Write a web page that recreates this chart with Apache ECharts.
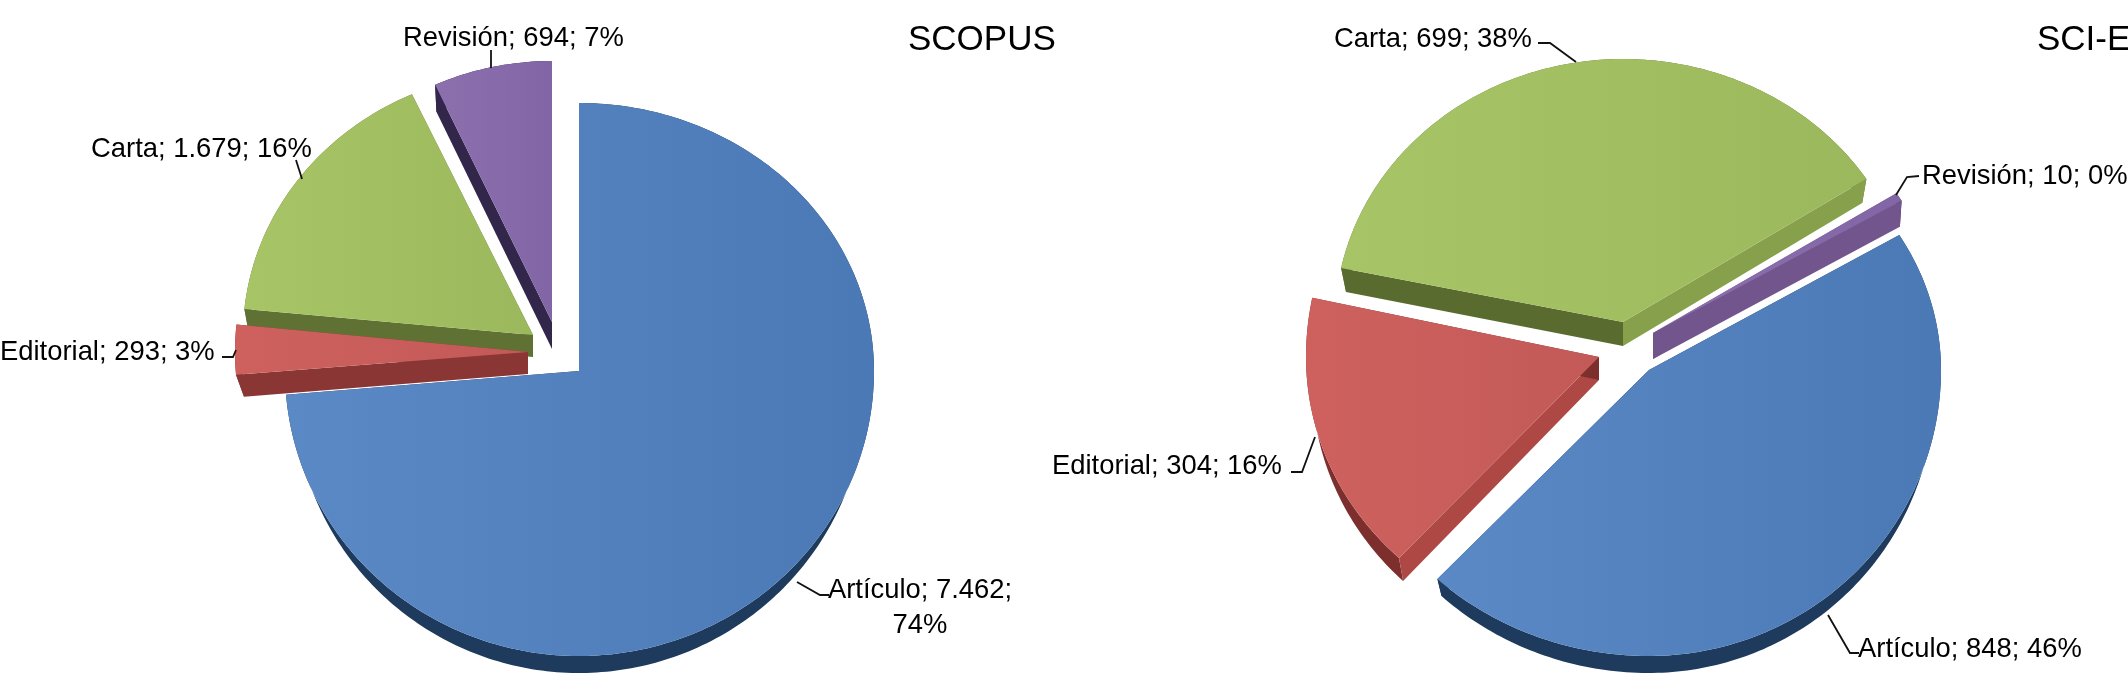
<!DOCTYPE html>
<html>
<head>
<meta charset="utf-8">
<title>SCOPUS / SCI-E</title>
<script src="https://cdn.jsdelivr.net/npm/echarts@6/dist/echarts.min.js"></script>
<style>
  html, body { margin: 0; padding: 0; background: #fff; }
  #chart { width: 2128px; height: 688px; }
</style>
</head>
<body>
<div id="chart"></div>
<script>
// data
var categories = ['Artículo', 'Editorial', 'Carta', 'Revisión'];
var scopusValues = [7462, 293, 1679, 694];
var scopusValueLabels = ['7.462', '293', '1.679', '694'];
var scopusPercents = ['74%', '3%', '16%', '7%'];
var scieValues = [848, 304, 699, 10];
var scieValueLabels = ['848', '304', '699', '10'];
var sciePercents = ['46%', '16%', '38%', '0%'];

// look of each slice, same order as categories
var faceColors = [['#5a89c6', '#4a79b5'], ['#ce615e', '#c35a58'], ['#a7c567', '#9cb85c'], ['#8c70ae', '#8265a5']];
var rimColors = ['#1e3a5c', '#7c2f2d', '#5f7233', '#32264a'];

// exploded slices: apex, radius per quadrant, wall height, rimIn pulls the lower edge inwards
var scopusShapes = [
    {cx: 579, cy: 371, rxR: 295, rxL: 294, ryT: 268, ryB: 285, depth: 17, rimIn: 8, z: 1, walls: ['#1e3a5c', '#1e3a5c']},
    {cx: 528, cy: 352, rxR: 293, rxL: 293, ryT: 280, ryB: 274, depth: 22, rimIn: 8, z: 4, walls: ['#8a3634', '#8a3634']},
    {cx: 533, cy: 335, rxR: 285, rxL: 290, ryT: 265, ryB: 265, depth: 22, rimIn: 4, z: 3, walls: ['#5f7233', '#5f7233']},
    {cx: 552, cy: 322, rxR: 280, rxL: 280, ryT: 261, ryB: 261, depth: 27, rimIn: 3, z: 2, walls: ['#32264a', '#32264a']}
];
var scieShapes = [
    {cx: 1649, cy: 370, rxR: 292, rxL: 310, ryT: 262, ryB: 286, depth: 17, rimIn: 6, z: 1, walls: ['#1e3a5c', '#1e3a5c']},
    {cx: 1599, cy: 357, rxR: 295, rxL: 293, ryT: 288, ryB: 275, depth: 23, rimIn: 6, z: 2, walls: ['#ae4845', '#7c2f2d']},
    {cx: 1623, cy: 322, rxR: 290, rxL: 288, ryT: 263, ryB: 263, depth: 24, rimIn: 5, z: 3, walls: ['#5a6b30', '#86a04b']},
    {cx: 1653, cy: 333, rxR: 290, rxL: 290, ryT: 257, ryB: 257, depth: 26, rimIn: 2, z: 2, walls: ['#72558d', '#72558d']}
];

// label anchor and leader line for each slice
var scopusLabels = [
    {x: 920, y: 590, align: 'center', line: [[797, 582], [820, 595], [829, 595]]},
    {x: 0, y: 352, align: 'left', line: [[222, 357], [233, 357], [236, 350]]},
    {x: 91, y: 149, align: 'left', line: [[296, 160], [302, 179]]},
    {x: 403, y: 38, align: 'left', line: [[491, 50], [491, 68]]}
];
var scieLabels = [
    {x: 1858, y: 649, align: 'left', line: [[1828, 615], [1850, 653], [1859, 653]]},
    {x: 1052, y: 466, align: 'left', line: [[1291, 472], [1302, 472], [1315, 437]]},
    {x: 1334, y: 39, align: 'left', line: [[1538, 43], [1550, 43], [1576, 62]]},
    {x: 1922, y: 176, align: 'left', line: [[1919, 176], [1907, 177], [1896, 195]]}
];

function arcPoints(s, from, to, inset, drop) {
    var pts = [];
    var n = Math.max(2, Math.ceil(to - from));
    for (var i = 0; i <= n; i++) {
        var a = (from + (to - from) * i / n) * Math.PI / 180;
        var sx = Math.sin(a), cy = Math.cos(a);
        pts.push([
            s.cx + sx * ((sx > 0 ? s.rxR : s.rxL) - inset),
            s.cy - cy * (cy > 0 ? s.ryT : s.ryB) + drop
        ]);
    }
    return pts;
}

function makeRender(values, startDeg, shapes, labels, valueLabels, percents, breakAt) {
    var total = values.reduce(function (a, b) { return a + b; }, 0);
    return function (params, api) {
        var i = params.dataIndex;
        var before = 0;
        for (var k = 0; k < i; k++) before += values[k];
        var from = startDeg + before / total * 360;
        var to = from + api.value(0) / total * 360;
        var s = shapes[i];
        var arc = arcPoints(s, from, to, 0, 0);
        var low = arcPoints(s, from, to, s.rimIn, s.depth);
        var apex = [s.cx, s.cy];
        var apexLow = [s.cx, s.cy + s.depth];
        var rim = arc.concat(low.slice().reverse());
        var kids = [
            {type: 'polygon', z2: s.z, shape: {points: rim}, style: {fill: rimColors[i]}},
            {type: 'polygon', z2: s.z, shape: {points: [apex, arc[0], low[0], apexLow]}, style: {fill: s.walls[0]}},
            {type: 'polygon', z2: s.z, shape: {points: [apex, arc[arc.length - 1], low[low.length - 1], apexLow]}, style: {fill: s.walls[1]}},
            {type: 'polygon', z2: s.z, shape: {points: [apex].concat(arc)}, style: {
                fill: new echarts.graphic.LinearGradient(0, 0, 1, 0, [
                    {offset: 0, color: faceColors[i][0]},
                    {offset: 1, color: faceColors[i][1]}
                ])
            }}
        ];
        var lab = labels[i];
        var wrapped = i === breakAt;
        kids.push({type: 'polyline', z2: 10, shape: {points: lab.line}, style: {stroke: '#111', lineWidth: 1.8, fill: null}});
        kids.push({type: 'text', z2: 11, x: lab.x, y: wrapped ? lab.y - 17 : lab.y, style: {
            text: categories[i] + '; ' + valueLabels[i] + ';' + (wrapped ? '\n' : ' ') + percents[i],
            fill: '#000',
            font: '27.4px "Liberation Sans", Arial, sans-serif',
            lineHeight: 35,
            align: lab.align,
            verticalAlign: wrapped ? 'top' : 'middle'
        }});
        return {type: 'group', children: kids};
    };
}

var titleStyle = {fontFamily: 'Liberation Sans', fontSize: 35, fontWeight: 'normal', color: '#000'};
var myChart = echarts.init(document.getElementById('chart'));
myChart.setOption({
    animation: false,
    backgroundColor: '#fff',
    title: [
        {text: 'SCOPUS', left: 903, top: 18, textStyle: titleStyle},
        {text: 'SCI-E', left: 2032, top: 18, textStyle: titleStyle}
    ],
    series: [
        {
            type: 'custom',
            name: 'SCOPUS',
            coordinateSystem: 'none',
            silent: true,
            data: scopusValues,
            renderItem: makeRender(scopusValues, 0, scopusShapes, scopusLabels, scopusValueLabels, scopusPercents, 0)
        },
        {
            type: 'custom',
            name: 'SCI-E',
            coordinateSystem: 'none',
            silent: true,
            data: scieValues,
            renderItem: makeRender(scieValues, 59, scieShapes, scieLabels, scieValueLabels, sciePercents, -1)
        }
    ]
});
</script>
</body>
</html>
